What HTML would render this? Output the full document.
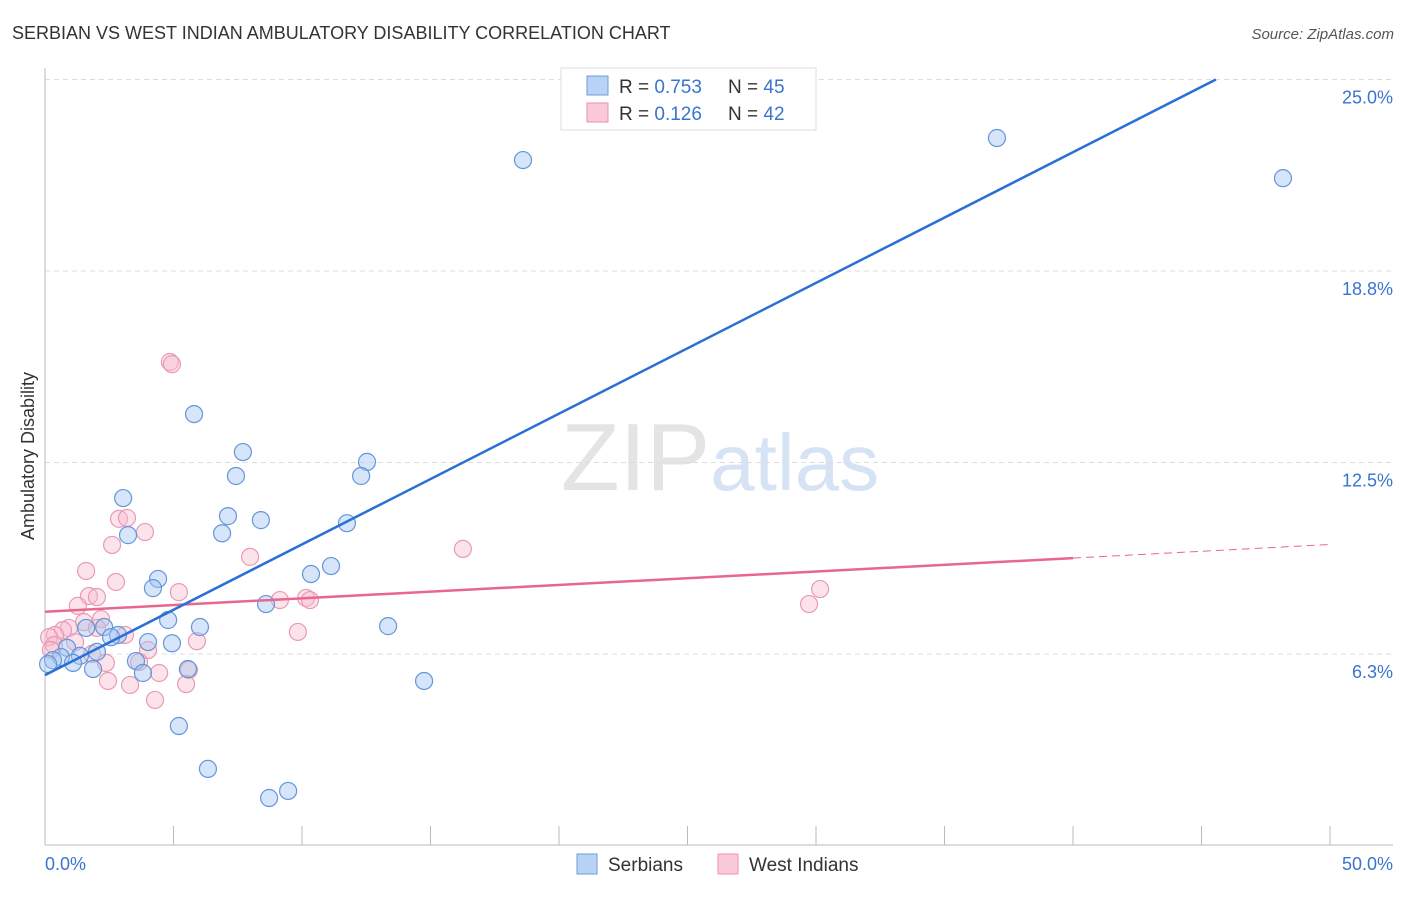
<!DOCTYPE html>
<html><head><meta charset="utf-8"><style>
body{margin:0;background:#fff;font-family:"Liberation Sans",sans-serif}
svg text{font-family:"Liberation Sans",sans-serif}
</style></head><body>
<svg id="chart" width="1406" height="892" xmlns="http://www.w3.org/2000/svg">
<text x="12" y="39" font-size="18" fill="#333">SERBIAN VS WEST INDIAN AMBULATORY DISABILITY CORRELATION CHART</text>
<text x="1394" y="39" font-size="15" fill="#555" text-anchor="end" font-style="italic">Source: ZipAtlas.com</text>
<text x="720" y="490" font-size="96" text-anchor="middle" fill="#e4e4e4" font-family="Liberation Serif">ZIP<tspan fill="#d6e3f5" font-family="Liberation Sans" font-size="80">atlas</tspan></text>
<text transform="translate(34,456) rotate(-90)" font-size="18" fill="#333" text-anchor="middle">Ambulatory Disability</text>
<g id="grid"></g><g id="axes"></g><g id="marks"></g>
<g>
<rect x="561" y="68" width="255" height="62" fill="#fff" stroke="#ddd"/>
<rect x="587" y="76" width="21" height="19" fill="#b9d3f5" stroke="#6b9bdc"/>
<text x="619" y="93" font-size="19" fill="#333">R = <tspan fill="#3a74d0">0.753</tspan></text>
<text x="728" y="93" font-size="19" fill="#333">N = <tspan fill="#3a74d0">45</tspan></text>
<rect x="587" y="103" width="21" height="19" fill="#fbc9d8" stroke="#e98fae"/>
<text x="619" y="120" font-size="19" fill="#333">R = <tspan fill="#3a74d0"> 0.126</tspan></text>
<text x="728" y="120" font-size="19" fill="#333">N = <tspan fill="#3a74d0">42</tspan></text>
</g>
<g>
<rect x="577" y="854" width="20" height="20" fill="#b9d3f5" stroke="#6b9bdc"/>
<text x="608" y="871" font-size="19" fill="#333">Serbians</text>
<rect x="718" y="854" width="20" height="20" fill="#fbc9d8" stroke="#e98fae"/>
<text x="749" y="871" font-size="19" fill="#333">West Indians</text>
</g>
</svg>
<script>
const yTicks=[6.3,12.5,18.8,25.0];
const yTickVals=[6.25,12.5,18.75,25];
const xTickLabels=["0.0%","50.0%"];
const serbX=[18.6,37.04,48.17,26.11,5.80,7.70,7.43,12.53,12.30,3.04,7.12,8.40,6.89,3.23,11.75,4.40,4.20,11.13,10.35,8.60,13.35,4.79,6.03,1.60,2.30,2.84,2.57,4.01,4.94,0.86,2.02,1.36,0.62,0.31,0.12,1.09,1.87,3.54,3.81,5.56,14.75,5.21,6.34,9.46,8.72];
const serbY=[22.37,23.09,21.78,24.66,14.08,12.84,12.06,12.52,12.06,11.34,10.75,10.62,10.19,10.13,10.52,8.70,8.40,9.12,8.86,7.88,7.16,7.36,7.13,7.10,7.13,6.87,6.80,6.64,6.60,6.45,6.32,6.19,6.15,6.05,5.92,5.96,5.76,6.02,5.63,5.76,5.37,3.90,2.50,1.78,1.55];
const wiX=[4.86,4.94,2.88,3.19,3.89,2.61,7.98,16.26,1.60,2.76,1.71,2.02,5.21,1.28,10.16,10.31,9.14,30.16,29.73,2.18,1.52,0.93,0.70,2.02,3.11,0.39,0.16,0.35,1.17,9.84,5.91,4.01,1.83,2.37,3.66,5.60,4.44,2.45,3.31,5.49,4.28,0.23];
const wiY=[15.78,15.71,10.66,10.69,10.23,9.81,9.42,9.68,8.96,8.60,8.14,8.11,8.27,7.82,8.08,8.01,8.01,8.37,7.88,7.39,7.29,7.10,7.03,7.10,6.87,6.87,6.80,6.54,6.64,6.97,6.67,6.38,6.25,5.96,5.99,5.73,5.63,5.37,5.24,5.27,4.75,6.38];
const serbTrend=[[0,5.56],[45.56,25.0]];
const wiTrend=[[0,7.63],[40,9.38]];
const wiTrendExt=[[40,9.38],[50.1,9.83]];
const NS="http://www.w3.org/2000/svg";
const X=v=>45+v*25.7, Y=v=>654-(v-6.25)*30.64;
function mk(tag,parent,attrs){const e=document.createElementNS(NS,tag);for(const k in attrs)e.setAttribute(k,attrs[k]);document.getElementById(parent).appendChild(e);return e;}
yTickVals.forEach((v,i)=>{
 const g=mk('line','grid',{x1:45,x2:1393,y1:Y(v),y2:Y(v),stroke:'#ddd','stroke-dasharray':'5,4'});
 
 
 const t=mk('text','grid',{x:1393,y:Y(v)+24,'font-size':18,fill:'#3a74d0','text-anchor':'end'});
 t.textContent=yTicks[i].toFixed(1)+'%';
 
 
});
let a=mk('line','axes',{x1:45,x2:45,y1:68,y2:845,stroke:'#bbb'});


a=mk('line','axes',{x1:45,x2:1393,y1:845,y2:845,stroke:'#bbb'});


for(let v=5;v<=50;v+=5){const t=mk('line','axes',{x1:X(v),x2:X(v),y1:826,y2:845,stroke:'#bbb'});
 
 }
[[0,'start',45],[50,'end',1393]].forEach((d,i)=>{const t=mk('text','axes',{x:d[2],y:870,'font-size':18,fill:'#3a74d0','text-anchor':d[1]});t.textContent=xTickLabels[i];
 
 });
function dots(xs,ys,fill,stroke,name){xs.forEach((x,i)=>{const c=mk('circle','marks',{cx:X(x),cy:Y(ys[i]),r:8.5,fill:fill,stroke:stroke,'stroke-width':1.2});
 
 });}
dots(wiX,wiY,'rgba(248,185,205,0.4)','#ea9ab5','west-indian-point');
dots(serbX,serbY,'rgba(165,198,242,0.45)','#6596d8','serbian-point');
let l=mk('line','marks',{x1:X(wiTrend[0][0]),y1:Y(wiTrend[0][1]),x2:X(wiTrend[1][0]),y2:Y(wiTrend[1][1]),stroke:'#e8668f','stroke-width':2.5});


l=mk('line','marks',{x1:X(wiTrendExt[0][0]),y1:Y(wiTrendExt[0][1]),x2:X(wiTrendExt[1][0]),y2:Y(wiTrendExt[1][1]),stroke:'#e8668f','stroke-width':1,'stroke-dasharray':'8,5'});


l=mk('line','marks',{x1:X(serbTrend[0][0]),y1:Y(serbTrend[0][1]),x2:X(serbTrend[1][0]),y2:Y(serbTrend[1][1]),stroke:'#2a6fd6','stroke-width':2.5});


</script>
</body></html>
